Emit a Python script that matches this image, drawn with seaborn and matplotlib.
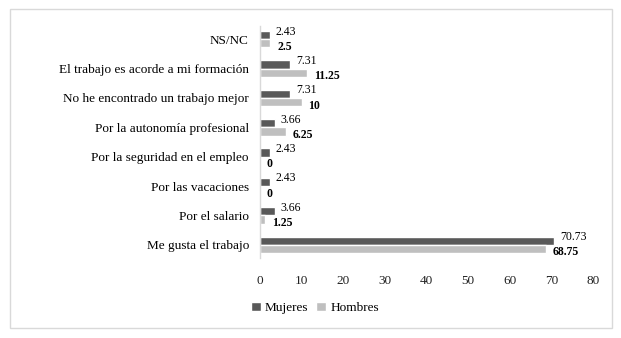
import numpy as np
import pandas as pd
import matplotlib
matplotlib.use("Agg")
import matplotlib.pyplot as plt
import seaborn as sns
from matplotlib.patches import Rectangle

categorias = ["NS/NC", "El trabajo es acorde a mi formación", "No he encontrado un trabajo mejor",
              "Por la autonomía profesional", "Por la seguridad en el empleo", "Por las vacaciones",
              "Por el salario", "Me gusta el trabajo"]
mujeres = [2.43, 7.31, 7.31, 3.66, 2.43, 2.43, 3.66, 70.73]
hombres = [2.5, 11.25, 10, 6.25, 0, 0, 1.25, 68.75]
etiq_muj = ["2.43", "7.31", "7.31", "3.66", "2.43", "2.43", "3.66", "70.73"]
etiq_hom = ["2.5", "11.25", "10", "6.25", "0", "0", "1.25", "68.75"]

df = pd.DataFrame({
    "cat": categorias * 2,
    "valor": mujeres + hombres,
    "sexo": ["Mujeres"] * len(categorias) + ["Hombres"] * len(categorias),
})

sns.set_style("white")
plt.rcParams["font.family"] = ["Liberation Serif", "DejaVu Serif"]

fig = plt.figure(figsize=(6.21, 3.38), dpi=100)
ax = fig.add_axes([260 / 621, 1 - 258 / 338, (593 - 260) / 621, (258 - 26) / 338])

ancho = 0.56
sns.barplot(data=df, y="cat", x="valor", hue="sexo", orient="h",
            palette={"Mujeres": "#595959", "Hombres": "#bfbfbf"},
            width=ancho, ax=ax, legend=True)

# etiquetas de valores
for i in range(len(categorias)):
    ax.annotate(etiq_muj[i], (mujeres[i], i - ancho / 4), xytext=(4, 2.5), textcoords="offset points",
                ha="left", va="center", fontsize=8.5, color="black")
    ax.annotate(etiq_hom[i], (hombres[i], i + ancho / 4), xytext=(5, -2.5), textcoords="offset points",
                ha="left", va="center", fontsize=8.5, fontweight="bold", color="black")

ax.set_xlim(0, 80)
ax.set_ylim(7.45, -0.45)
ax.set_xticks(range(0, 81, 10))
ax.set_xlabel("")
ax.set_ylabel("")
ax.tick_params(axis="x", length=0, labelsize=9.5, pad=12, colors="#222222")
ax.tick_params(axis="y", length=0, labelsize=9.5, pad=8, colors="black")
for s in ["top", "right", "bottom"]:
    ax.spines[s].set_visible(False)
ax.spines["left"].set_color("#d9d9d9")
ax.spines["left"].set_linewidth(1)

handles, labels = ax.get_legend_handles_labels()
ax.get_legend().remove()
fig.legend(handles, labels, loc="center", bbox_to_anchor=(315 / 621, 1 - 308 / 338), ncol=2,
           frameon=False, fontsize=9.5, handlelength=0.75, handleheight=0.75, handletextpad=0.3,
           columnspacing=0.6, labelcolor="black")

fig.patches.append(Rectangle((10 / 621, 1 - 328 / 338), 602 / 621, 319 / 338,
                             transform=fig.transFigure, fill=False, edgecolor="#d9d9d9", linewidth=1))

fig.savefig("out.png", dpi=100)
